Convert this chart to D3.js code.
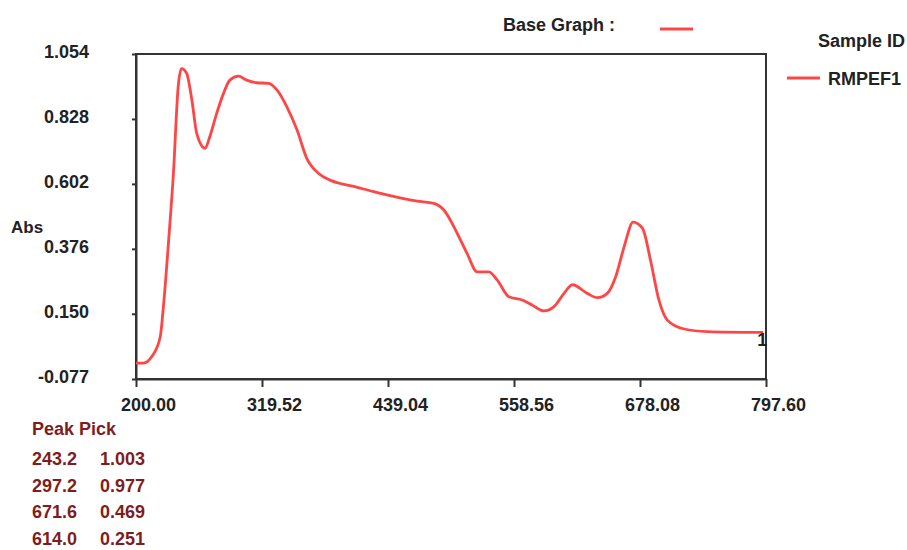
<!DOCTYPE html>
<html>
<head>
<meta charset="utf-8">
<script src="https://cdn.jsdelivr.net/npm/d3@7"></script>
<style>
  body { margin: 0; background: #fff; }
  svg { font-family: "Liberation Sans", Arial, sans-serif; }
</style>
</head>
<body>
<svg id="chart" width="907" height="550"></svg>
<script>
// spectrum
var wavelength = [200, 207, 215, 223, 226, 231, 235.5, 240, 243.2, 248, 253, 257.6, 265.5, 270, 276.6, 283, 289, 297.2, 305, 314.7, 325.7, 333.7, 343, 352.7, 362, 373, 384, 394, 403, 425.5, 466.7, 482.5, 492, 504.7, 514, 523.7, 534.7, 542.7, 553.7, 566.4, 576, 587, 596.5, 606, 614, 628, 637.7, 647, 655, 663, 671.6, 680.5, 688, 696, 704, 720, 742, 795];
var absorb = [-0.022, -0.022, 0.001, 0.07, 0.175, 0.407, 0.639, 0.94, 1.003, 0.987, 0.894, 0.778, 0.726, 0.766, 0.848, 0.917, 0.963, 0.977, 0.963, 0.954, 0.952, 0.929, 0.871, 0.79, 0.691, 0.639, 0.615, 0.603, 0.596, 0.575, 0.542, 0.534, 0.511, 0.43, 0.36, 0.296, 0.296, 0.267, 0.209, 0.198, 0.18, 0.16, 0.175, 0.221, 0.251, 0.221, 0.206, 0.221, 0.279, 0.383, 0.469, 0.447, 0.337, 0.198, 0.128, 0.097, 0.088, 0.085];

var xTicks = [200.00, 319.52, 439.04, 558.56, 678.08, 797.60];
var yTicks = [-0.077, 0.150, 0.376, 0.602, 0.828, 1.054];

var peakNm = ["243.2", "297.2", "671.6", "614.0"];
var peakAbs = ["1.003", "0.977", "0.469", "0.251"];

var sampleIds = ["RMPEF1"];

var lineColor = "#ff4646";
var axisColor = "#333";
var textColor = "#222";
var peakColor = "#7f1d1d";
var fs = 18;

var svg = d3.select("#chart");
var margin = {top: 54, right: 141, bottom: 171, left: 136},
    width = +svg.attr("width") - margin.left - margin.right,
    height = +svg.attr("height") - margin.top - margin.bottom,
    g = svg.append("g").attr("transform", "translate(" + margin.left + "," + margin.top + ")");

var x = d3.scaleLinear().domain([200, 797.6]).range([0, width]);
var y = d3.scaleLinear().domain([-0.077, 1.054]).range([height, 0]);

// plain hyphen for negatives, like the instrument software
var fmt3 = function(d) { return d3.format(".3f")(d).replace("\u2212", "-"); };

// frame
g.append("rect")
    .attr("width", width)
    .attr("height", height)
    .attr("fill", "none")
    .attr("stroke", axisColor)
    .attr("stroke-width", 2);

var yAxis = g.append("g")
    .attr("class", "axis axis--y")
    .call(d3.axisLeft(y).tickValues(yTicks).tickFormat(fmt3).tickSize(4).tickSizeOuter(0).tickPadding(43));
var xAxis = g.append("g")
    .attr("class", "axis axis--x")
    .attr("transform", "translate(0," + height + ")")
    .call(d3.axisBottom(x).tickValues(xTicks).tickFormat(d3.format(".2f")).tickSize(8).tickSizeOuter(0).tickPadding(9));

[xAxis, yAxis].forEach(function(a) {
  a.select(".domain").attr("stroke", axisColor).attr("stroke-width", 2);
  a.selectAll(".tick line").attr("stroke", axisColor).attr("stroke-width", 2);
  a.selectAll(".tick text")
      .attr("fill", textColor)
      .style("font-size", fs + "px")
      .style("font-weight", "bold")
      .style("font-family", "'Liberation Sans', Arial, sans-serif");
});
// labels sit a little right of their ticks in the original
xAxis.selectAll(".tick text").attr("x", 12).attr("y", 19);
yAxis.selectAll(".tick text").attr("dy", "0.22em");

var line = d3.line()
    .x(function(d, i) { return x(wavelength[i]); })
    .y(function(d) { return y(d); })
    .curve(d3.curveMonotoneX);

g.append("path")
    .datum(absorb)
    .attr("d", line)
    .attr("fill", "none")
    .attr("stroke", lineColor)
    .attr("stroke-width", 2.8);

// curve index label at the end
g.append("text")
    .attr("x", x(wavelength[wavelength.length - 1]) - 6)
    .attr("y", y(absorb[absorb.length - 1]) + 14)
    .attr("font-size", fs)
    .attr("font-weight", "bold")
    .attr("fill", textColor)
    .text("1");

// axis title
svg.append("text")
    .attr("x", 11)
    .attr("y", 233)
    .attr("font-size", 17)
    .attr("font-weight", "bold")
    .attr("fill", textColor)
    .text("Abs");

// legends
svg.append("text")
    .attr("x", 503).attr("y", 31)
    .attr("font-size", fs).attr("font-weight", "bold").attr("fill", textColor)
    .text("Base Graph :");
svg.append("line")
    .attr("x1", 660).attr("x2", 693).attr("y1", 29).attr("y2", 29)
    .attr("stroke", lineColor).attr("stroke-width", 3);

svg.append("text")
    .attr("x", 818).attr("y", 47)
    .attr("font-size", fs).attr("font-weight", "bold").attr("fill", textColor)
    .text("Sample ID");

var leg = svg.selectAll(".sample").data(sampleIds).enter().append("g")
    .attr("class", "sample")
    .attr("transform", function(d, i) { return "translate(787," + (78 + i * 26) + ")"; });
leg.append("line")
    .attr("x1", 0).attr("x2", 33)
    .attr("stroke", lineColor).attr("stroke-width", 3);
leg.append("text")
    .attr("x", 41).attr("y", 7)
    .attr("font-size", fs).attr("font-weight", "bold").attr("fill", textColor)
    .text(function(d) { return d; });

// peak pick table
svg.append("text")
    .attr("x", 32).attr("y", 435)
    .attr("font-size", fs).attr("font-weight", "bold").attr("fill", peakColor)
    .text("Peak Pick");

var rows = svg.selectAll(".peak").data(peakNm).enter().append("g")
    .attr("class", "peak")
    .attr("transform", function(d, i) { return "translate(32," + (465 + i * 26.6) + ")"; });
rows.append("text")
    .attr("font-size", fs).attr("font-weight", "bold").attr("fill", peakColor)
    .text(function(d) { return d; });
rows.append("text")
    .attr("x", 68)
    .attr("font-size", fs).attr("font-weight", "bold").attr("fill", peakColor)
    .text(function(d, i) { return peakAbs[i]; });
</script>
</body>
</html>
